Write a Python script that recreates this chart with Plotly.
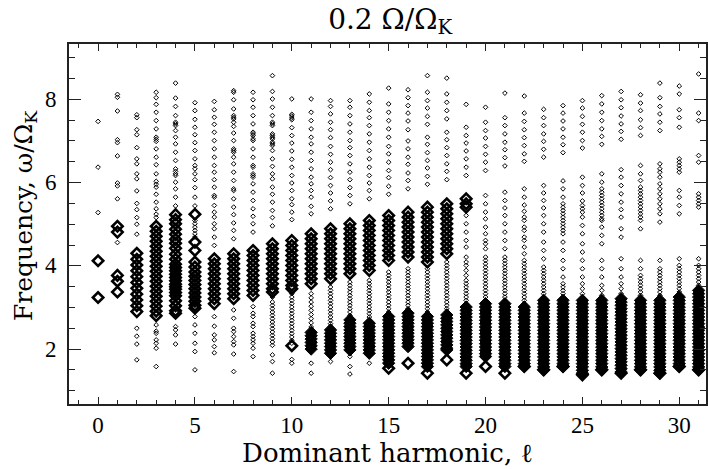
import plotly.graph_objects as go

harmonics = list(range(32))

# small (weak) modes: frequency omega/Omega_K per dominant harmonic l
small_freq = [
    [7.47, 6.37, 5.28],
    [8.12, 8.05, 7.72, 7.03, 6.96, 6.64, 5.99, 5.92, 5.61, 4.56],
    [7.63, 7.56, 7.27, 7.15, 6.84, 6.57, 6.45, 6.21, 6.09, 5.80, 5.50, 5.35, 5.16, 5.00, 4.76, 2.50, 2.31, 2.12, 1.74],
    [8.17, 8.04, 7.88, 7.69, 7.49, 7.29, 7.09, 7.04, 6.99, 6.81, 6.61, 6.43, 6.21, 6.03, 5.96, 5.89, 5.72, 5.53, 5.37, 5.24, 5.16,
     2.58, 2.43, 2.38, 2.22, 2.14, 2.02, 1.58],
    [8.39, 8.03, 7.83, 7.61, 7.45, 7.41, 7.37, 7.25, 7.09, 6.93, 6.73, 6.53, 6.33, 6.27, 6.21, 6.17, 6.01, 5.85, 5.65, 5.44,
     2.54, 2.46, 2.34, 2.12],
    [7.92, 7.73, 7.52, 7.33, 7.15, 6.96, 6.77, 6.57, 6.41, 6.33, 6.21, 6.07, 5.88, 5.65, 5.44, 5.09, 5.01, 4.93, 4.85, 4.77, 4.69,
     2.78, 2.58, 2.38, 2.14, 1.94, 1.50],
    [7.95, 7.75, 7.57, 7.40, 7.21, 7.01, 6.81, 6.61, 6.41, 6.25, 6.07, 5.89, 5.69, 5.65, 5.45, 5.29, 5.17, 5.01, 4.89, 4.69, 4.49,
     2.78, 2.55, 2.34, 2.22, 2.06, 1.91],
    [8.21, 8.17, 7.99, 7.77, 7.61, 7.57, 7.53, 7.45, 7.35, 7.19, 7.01, 6.81, 6.77, 6.73, 6.61, 6.45, 6.25, 6.05, 5.85, 5.81, 5.61,
     5.41, 5.23, 5.03, 4.85, 4.65, 2.94, 2.74, 2.50, 2.42, 2.30, 2.18, 2.10, 1.88, 1.46],
    [8.17, 7.99, 7.81, 7.61, 7.41, 7.21, 7.17, 7.13, 7.05, 7.01, 6.81, 6.61, 6.41, 6.37, 6.21, 6.17, 6.13, 5.97, 5.77, 5.57, 5.37,
     5.19, 5.01, 4.81, 3.02, 2.86, 2.78, 2.62, 2.54, 2.38, 2.30, 2.22, 2.14, 2.02, 1.82],
    [8.57, 8.19, 8.01, 7.81, 7.61, 7.45, 7.41, 7.37, 7.17, 7.13, 7.09, 7.05, 6.97, 6.93, 6.89, 6.77, 6.57, 6.39, 6.21, 6.09, 5.89,
     5.72, 5.53, 5.33, 5.16, 4.96, 3.25, 3.13, 3.05, 2.97, 2.89, 2.81, 2.73, 2.65, 2.57, 2.49, 2.41, 2.33, 2.25, 2.17, 2.09,
     1.86, 1.70, 1.42],
    [8.01, 7.64, 7.60, 7.55, 7.51, 7.32, 7.13, 6.95, 6.76, 6.56, 6.37, 6.17, 5.99, 5.81, 5.61, 5.47, 5.29, 5.11, 3.33, 3.25, 3.17,
     3.09, 3.01, 2.93, 2.85, 2.77, 2.69, 2.61, 2.53, 2.45, 2.37, 2.29, 2.21, 2.14, 1.75, 1.66],
    [8.01, 7.69, 7.49, 7.29, 7.09, 6.93, 6.73, 6.53, 6.33, 6.13, 5.97, 5.81, 5.65, 5.43, 5.25, 3.33, 3.23, 3.13, 3.03, 2.93, 2.83,
     2.73, 2.63, 2.53, 2.45, 1.66, 1.42],
    [7.97, 7.83, 7.65, 7.45, 7.27, 7.08, 6.87, 6.68, 6.49, 6.31, 6.12, 5.93, 5.75, 5.56, 5.37, 3.49, 3.41, 3.33, 3.25, 3.17, 3.09,
     3.01, 2.93, 2.85, 2.77, 2.69, 2.61, 2.54, 1.70],
    [7.97, 7.81, 7.61, 7.41, 7.21, 7.01, 6.84, 6.65, 6.45, 6.25, 6.07, 5.88, 5.69, 5.49, 3.61, 3.53, 3.45, 3.37, 3.29, 3.21, 3.13,
     3.05, 2.97, 2.89, 2.81, 1.82, 1.58, 1.40],
    [8.13, 7.93, 7.73, 7.56, 7.37, 7.17, 6.97, 6.77, 6.57, 6.37, 6.17, 5.99, 5.81, 5.61, 3.65, 3.57, 3.49, 3.41, 3.33, 3.25, 3.17,
     3.09, 3.01, 2.93, 2.85, 2.77, 2.69, 1.66],
    [8.27, 7.89, 7.69, 7.49, 7.29, 7.09, 6.87, 6.69, 6.49, 6.29, 6.12, 5.91, 5.72, 3.85, 3.77, 3.69, 3.61, 3.53, 3.45, 3.37, 3.29,
     3.21, 3.13, 3.05, 2.97, 2.89],
    [8.23, 8.04, 7.85, 7.67, 7.48, 7.27, 7.00, 6.81, 6.61, 6.44, 6.23, 6.05, 5.85, 3.93, 3.85, 3.77, 3.69, 3.61, 3.53, 3.45, 3.37,
     3.29, 3.21, 3.13, 3.05, 2.97],
    [8.57, 8.17, 7.97, 7.79, 7.59, 7.40, 7.09, 6.92, 6.72, 6.53, 6.35, 6.15, 5.96, 3.93, 3.85, 3.77, 3.69, 3.61, 3.53, 3.45, 3.37,
     3.29, 3.21, 3.13, 3.05, 2.97, 2.89],
    [8.51, 8.13, 7.93, 7.73, 7.53, 7.21, 7.03, 6.84, 6.65, 6.45, 6.27, 6.07, 4.09, 4.01, 3.93, 3.85, 3.77, 3.69, 3.61, 3.53, 3.45,
     3.37, 3.29, 3.21, 3.13, 3.05, 2.97, 2.90],
    [7.88, 7.33, 7.13, 6.95, 6.76, 6.57, 6.37, 6.17, 5.21, 5.01, 4.81, 4.61, 4.45, 4.21, 4.09, 4.01, 3.89, 3.77, 3.65, 3.57, 3.49,
     3.41, 3.33, 3.25, 3.17, 3.09],
    [7.81, 7.45, 7.25, 7.07, 6.87, 6.68, 6.49, 6.29, 5.69, 5.49, 5.29, 5.13, 4.93, 4.77, 4.61, 4.53, 4.41, 4.21, 4.13, 4.05, 3.97,
     3.89, 3.81, 3.73, 3.65, 3.57, 3.49, 3.41, 3.33, 3.25, 3.17],
    [8.15, 7.56, 7.37, 7.17, 6.97, 6.79, 6.60, 6.40, 5.77, 5.57, 5.39, 5.21, 5.01, 4.81, 4.61, 4.41, 4.21, 4.13, 4.05, 3.97, 3.89,
     3.81, 3.73, 3.65, 3.57, 3.49, 3.41, 3.33, 3.25, 3.17],
    [8.08, 7.67, 7.47, 7.27, 7.08, 6.89, 6.69, 6.51, 5.85, 5.65, 5.46, 5.31, 5.17, 5.09, 4.93, 4.85, 4.69, 4.61, 4.45, 4.29, 4.13,
     4.05, 3.97, 3.89, 3.81, 3.73, 3.65, 3.57, 3.49, 3.41, 3.33, 3.25, 3.17, 3.09],
    [7.76, 7.56, 7.37, 7.17, 6.99, 6.80, 6.61, 5.93, 5.75, 5.57, 5.39, 5.21, 5.01, 4.81, 4.57, 4.37, 4.17, 3.97, 3.89, 3.81, 3.73,
     3.65, 3.57, 3.49, 3.41, 3.33, 3.25],
    [7.85, 7.67, 7.48, 7.29, 7.09, 6.91, 6.72, 6.04, 5.85, 5.65, 5.49, 5.41, 5.33, 5.25, 5.17, 5.09, 5.01, 4.93, 4.85, 4.77, 4.57,
     4.37, 4.13, 3.93, 3.73, 3.57, 3.49, 3.41, 3.33, 3.25],
    [7.97, 7.79, 7.59, 7.40, 7.21, 7.01, 6.83, 6.13, 5.93, 5.75, 5.56, 5.45, 5.37, 5.29, 5.17, 4.97, 4.77, 4.53, 4.33, 4.13, 3.93,
     3.73, 3.57, 3.45, 3.33, 3.25],
    [8.09, 7.89, 7.69, 7.49, 7.29, 7.11, 6.92, 6.21, 6.01, 5.85, 5.77, 5.69, 5.61, 5.53, 5.45, 5.37, 5.29, 5.21, 5.13, 5.09, 4.93,
     4.73, 4.53, 4.13, 3.93, 3.73, 3.53, 3.41, 3.29],
    [8.19, 7.99, 7.80, 7.60, 7.41, 7.23, 7.04, 6.31, 6.13, 5.93, 5.73, 5.53, 5.35, 5.17, 4.89, 4.69, 4.17, 3.93, 3.73, 3.57, 3.45,
     3.33],
    [8.11, 7.91, 7.73, 7.51, 7.32, 7.13, 6.41, 6.21, 6.05, 5.89, 5.81, 5.73, 5.65, 5.57, 5.49, 5.41, 5.33, 5.25, 5.17, 5.09, 4.89,
     4.13, 3.93, 3.77, 3.69, 3.61, 3.53, 3.45, 3.37, 3.29],
    [8.39, 8.04, 7.83, 7.65, 7.45, 7.25, 6.45, 6.33, 6.25, 6.13, 5.97, 5.85, 5.73, 5.61, 5.49, 5.37, 5.25, 5.05, 4.13, 3.93, 3.85,
     3.77, 3.69, 3.61, 3.53, 3.45, 3.37, 3.29],
    [8.32, 8.13, 7.75, 7.56, 7.33, 6.57, 6.49, 6.41, 6.33, 6.25, 5.81, 5.65, 5.45, 5.25, 4.17, 4.01, 3.93, 3.85, 3.77, 3.69, 3.61,
     3.53, 3.45, 3.37],
    [8.61, 7.67, 7.49, 6.65, 6.49, 5.73, 5.65, 5.57, 5.49, 5.41, 4.17, 4.01, 3.93, 3.85, 3.77, 3.69, 3.61, 3.53],
]

# strong (large-amplitude) modes drawn as big open diamonds
big_freq = [
    [4.12, 3.24],
    [4.95, 4.81, 3.77, 3.63, 3.37],
    [4.30, 4.16, 4.02, 3.88, 3.74, 3.60, 3.46, 3.32, 3.18, 3.04, 2.90],
    [4.95, 4.83, 4.71, 4.59, 4.47, 4.35, 4.23, 4.11, 3.99, 3.87, 3.75, 3.63, 3.51, 3.39, 3.27, 3.15, 3.03, 2.91, 2.80],
    [5.23, 5.11, 5.01, 4.88, 4.76, 4.64, 4.54, 4.42, 4.28, 4.16, 4.04, 3.96, 3.88, 3.80, 3.72, 3.64, 3.56, 3.50, 3.44, 3.36,
     3.28, 3.16, 3.04, 2.92, 2.86],
    [5.24, 4.57, 4.37, 4.09, 3.97, 3.85, 3.75, 3.65, 3.55, 3.45, 3.35, 3.25, 3.15, 3.05, 2.98],
    [4.17, 4.05, 3.93, 3.81, 3.69, 3.57, 3.45, 3.33, 3.21, 3.09],
    [4.29, 4.17, 4.05, 3.93, 3.81, 3.69, 3.57, 3.45, 3.33, 3.21],
    [4.37, 4.25, 4.13, 4.01, 3.89, 3.77, 3.65, 3.53, 3.41, 3.29],
    [4.53, 4.41, 4.29, 4.17, 4.05, 3.93, 3.81, 3.69, 3.57, 3.45, 3.37],
    [4.61, 4.49, 4.37, 4.25, 4.13, 4.01, 3.89, 3.77, 3.65, 3.53, 3.45, 2.08],
    [4.77, 4.65, 4.53, 4.41, 4.29, 4.17, 4.05, 3.93, 3.81, 3.69, 3.57],
    [4.89, 4.77, 4.65, 4.53, 4.41, 4.29, 4.17, 4.05, 3.93, 3.81, 3.69],
    [5.01, 4.89, 4.77, 4.65, 4.53, 4.41, 4.29, 4.17, 4.05, 3.93, 3.81],
    [5.09, 4.97, 4.85, 4.73, 4.61, 4.49, 4.37, 4.25, 4.13, 4.01, 3.89],
    [5.21, 5.09, 4.97, 4.85, 4.73, 4.61, 4.49, 4.37, 4.25, 4.13, 1.54],
    [5.29, 5.17, 5.05, 4.93, 4.81, 4.69, 4.57, 4.45, 4.33, 4.21, 1.66],
    [5.41, 5.29, 5.17, 5.05, 4.93, 4.81, 4.69, 4.57, 4.45, 4.33, 4.21, 4.09, 1.42],
    [5.49, 5.37, 5.25, 5.13, 5.01, 4.89, 4.77, 4.65, 4.53, 4.41, 4.29, 1.74],
    [5.61, 5.49, 5.41, 1.42],
    [1.58],
    [1.42],
    [1.58],
    [1.50],
    [1.58],
    [1.38],
    [1.50],
    [1.42],
    [1.50],
    [1.42],
    [1.58],
    [1.50],
]

# densely packed strong modes in the low-frequency band (merge into solid columns)
dense_freq = [
    [], [], [], [], [], [], [], [], [], [], [],
    [2.40, 2.32, 2.24, 2.16, 2.08, 2.00],
    [2.46, 2.38, 2.30, 2.22, 2.14, 2.06, 1.98, 1.90],
    [2.70, 2.62, 2.54, 2.46, 2.38, 2.30, 2.22, 2.14, 2.06, 1.98],
    [2.62, 2.54, 2.46, 2.38, 2.30, 2.22, 2.14, 2.06, 1.98, 1.90],
    [2.78, 2.70, 2.62, 2.54, 2.46, 2.38, 2.30, 2.22, 2.14, 2.06, 1.98, 1.90, 1.82, 1.74, 1.66],
    [2.86, 2.78, 2.70, 2.62, 2.54, 2.46, 2.38, 2.30, 2.22, 2.14, 2.06],
    [2.78, 2.70, 2.62, 2.54, 2.46, 2.38, 2.30, 2.22, 2.14, 2.06, 1.98, 1.90, 1.82, 1.74, 1.66, 1.58],
    [2.82, 2.74, 2.66, 2.58, 2.50, 2.42, 2.34, 2.26, 2.18, 2.10, 2.02, 1.98],
    [3.01, 2.93, 2.85, 2.77, 2.69, 2.61, 2.53, 2.45, 2.37, 2.29, 2.21, 2.13, 2.05, 1.97, 1.89, 1.81, 1.73, 1.65, 1.58],
    [3.09, 3.01, 2.93, 2.85, 2.77, 2.69, 2.61, 2.53, 2.45, 2.37, 2.29, 2.21, 2.13, 2.05, 1.97, 1.89, 1.82],
    [3.09, 3.01, 2.93, 2.85, 2.77, 2.69, 2.61, 2.53, 2.45, 2.37, 2.29, 2.21, 2.13, 2.05, 1.97, 1.89, 1.81, 1.73, 1.65, 1.58],
    [3.01, 2.93, 2.85, 2.77, 2.69, 2.61, 2.53, 2.45, 2.37, 2.29, 2.21, 2.13, 2.05, 1.97, 1.89, 1.81, 1.73, 1.65, 1.58],
    [3.17, 3.09, 3.01, 2.93, 2.85, 2.77, 2.69, 2.61, 2.53, 2.45, 2.37, 2.29, 2.21, 2.13, 2.05, 1.97, 1.89, 1.81, 1.73, 1.65,
     1.57, 1.50],
    [3.17, 3.09, 3.01, 2.93, 2.85, 2.77, 2.69, 2.61, 2.53, 2.45, 2.37, 2.29, 2.21, 2.13, 2.05, 1.97, 1.89, 1.81, 1.73, 1.65, 1.58],
    [3.17, 3.09, 3.01, 2.93, 2.85, 2.77, 2.69, 2.61, 2.53, 2.45, 2.37, 2.29, 2.21, 2.13, 2.05, 1.97, 1.89, 1.81, 1.73, 1.65,
     1.57, 1.49, 1.42],
    [3.17, 3.09, 3.01, 2.93, 2.85, 2.77, 2.69, 2.61, 2.53, 2.45, 2.37, 2.29, 2.21, 2.13, 2.05, 1.97, 1.89, 1.81, 1.73, 1.65,
     1.57, 1.50],
    [3.21, 3.13, 3.05, 2.97, 2.89, 2.81, 2.73, 2.65, 2.57, 2.49, 2.41, 2.33, 2.25, 2.17, 2.09, 2.01, 1.93, 1.85, 1.77, 1.69,
     1.61, 1.53, 1.45],
    [3.17, 3.09, 3.01, 2.93, 2.85, 2.77, 2.69, 2.61, 2.53, 2.45, 2.37, 2.29, 2.21, 2.13, 2.05, 1.97, 1.89, 1.81, 1.73, 1.65,
     1.57, 1.50],
    [3.17, 3.09, 3.01, 2.93, 2.85, 2.77, 2.69, 2.61, 2.53, 2.45, 2.37, 2.29, 2.21, 2.13, 2.05, 1.97, 1.89, 1.81, 1.73, 1.65,
     1.57, 1.49, 1.42],
    [3.25, 3.17, 3.09, 3.01, 2.93, 2.85, 2.77, 2.69, 2.61, 2.53, 2.45, 2.37, 2.29, 2.21, 2.13, 2.05, 1.97, 1.89, 1.81, 1.73,
     1.65, 1.58],
    [3.41, 3.33, 3.25, 3.17, 3.09, 3.01, 2.93, 2.85, 2.77, 2.69, 2.61, 2.53, 2.45, 2.37, 2.29, 2.21, 2.13, 2.05, 1.97, 1.89,
     1.81, 1.73, 1.65, 1.57, 1.50],
]

title_text = "0.2 Ω/Ω<sub>K</sub>"
x_title = "Dominant harmonic, ℓ"
y_title = "Frequency, ω/Ω<sub>K</sub>"
x_ticks = [0, 5, 10, 15, 20, 25, 30]
y_ticks = [2, 4, 6, 8]


def flatten(groups):
    xs, ys = [], []
    for l, vals in zip(harmonics, groups):
        xs.extend([l] * len(vals))
        ys.extend(vals)
    return xs, ys


fig = go.Figure()

xs, ys = flatten(dense_freq)
fig.add_trace(go.Scatter(x=xs, y=ys, mode="markers", hoverinfo="skip",
                         marker=dict(symbol="diamond", size=9.5, color="black",
                                     line=dict(color="black", width=1))))
xs, ys = flatten(big_freq)
fig.add_trace(go.Scatter(x=xs, y=ys, mode="markers", hoverinfo="skip",
                         marker=dict(symbol="diamond-open", size=8, color="black",
                                     line=dict(color="black", width=2.6))))
xs, ys = flatten(small_freq)
fig.add_trace(go.Scatter(x=xs, y=ys, mode="markers", hoverinfo="skip",
                         marker=dict(symbol="diamond-open", size=3.6, color="black",
                                     line=dict(color="black", width=1))))

tick_family = "Liberation Serif, Times New Roman, serif"
text_family = "DejaVu Serif, serif"
axis_common = dict(
    showline=True, linecolor="#222", linewidth=1.5, mirror="allticks",
    ticks="inside", tickcolor="#222", tickwidth=1.2,
    showgrid=False, zeroline=False,
    tickfont=dict(family=tick_family, size=23, color="black"),
)

# y tick labels and y title placed as annotations, close to the axis
annotations = [
    dict(text=str(v), xref="paper", x=0, xanchor="right", xshift=-10,
         yref="y", y=v, yanchor="middle", showarrow=False,
         font=dict(family=tick_family, size=23, color="black"))
    for v in y_ticks
]
annotations.append(
    dict(text=y_title, xref="paper", x=0, xanchor="center", xshift=-44,
         yref="paper", y=0.5, yanchor="middle", yshift=8, textangle=-90, showarrow=False,
         font=dict(family=text_family, size=25, color="black"))
)

fig.update_layout(
    width=708, height=469,
    margin=dict(l=69, r=0, t=44, b=65),
    paper_bgcolor="white", plot_bgcolor="white",
    showlegend=False,
    title=dict(text=title_text, x=0.551, xanchor="center", y=0.96, yanchor="middle",
               yref="container", font=dict(family=text_family, size=28, color="black")),
    xaxis=dict(range=[-1.5, 31.38], tickvals=x_ticks, ticklen=7,
               minor=dict(dtick=1, tick0=0, ticks="inside", ticklen=4, tickcolor="#222", tickwidth=1),
               title=dict(text=x_title, font=dict(family=text_family, size=26, color="black"), standoff=3),
               ticklabelstandoff=0, **axis_common),
    yaxis=dict(range=[0.68, 9.33], tickvals=y_ticks, ticklen=12, showticklabels=False,
               minor=dict(dtick=0.5, tick0=0, ticks="inside", ticklen=6, tickcolor="#222", tickwidth=1),
               **axis_common),
    annotations=annotations,
)

fig.write_html("out.html", post_script="document.body.style.margin='0px';",
               config={"displayModeBar": False})
